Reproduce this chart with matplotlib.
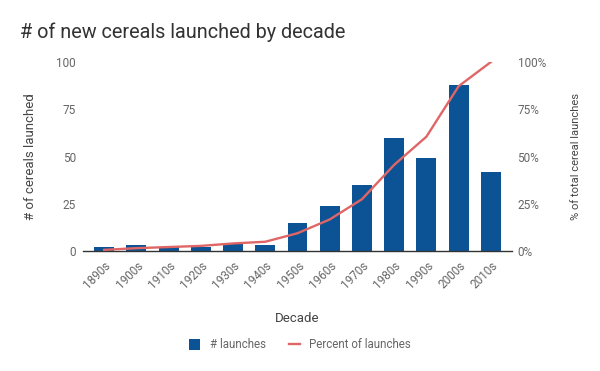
import matplotlib.pyplot as plt
import numpy as np

plt.rcParams['font.family'] = ['Roboto', 'DejaVu Sans']

decades = ['1890s', '1900s', '1910s', '1920s', '1930s', '1940s', '1950s',
           '1960s', '1970s', '1980s', '1990s', '2000s', '2010s']
launches = [2, 3, 2, 2, 4, 3, 15, 24, 35, 60, 49, 88, 42]
percent = [0.6, 1.5, 2.1, 2.7, 4.0, 4.9, 9.4, 16.7, 27.4, 45.6, 60.5, 87.2, 100]

bar_color = '#0b5394'
line_color = '#e06666'
tick_color = '#666666'
label_color = '#444444'

fig = plt.figure(figsize=(6, 3.71), dpi=100)
ax = fig.add_axes([83 / 600, 1 - 251 / 371, 429 / 600, 189 / 371])
ax2 = ax.twinx()

x = np.arange(len(decades))
ax.bar(x, launches, width=0.62, color=bar_color, label='# launches', zorder=2)
ax2.plot(x, percent, color=line_color, lw=1.7, label='Percent of launches', zorder=3)

pad = 5 / 32.25
ax.set_xlim(-0.5 - pad, len(decades) - 0.5 + pad)
ax.set_ylim(0, 100)
ax2.set_ylim(0, 100)

ax.set_yticks([0, 25, 50, 75, 100])
ax2.set_yticks([0, 25, 50, 75, 100])
ax2.set_yticklabels(['0%', '25%', '50%', '75%', '100%'])
ax.set_xticks(x)
ax.set_xticklabels(decades, rotation=45, ha='right', rotation_mode='anchor')

for a in (ax, ax2):
    for s in a.spines.values():
        s.set_visible(False)
    a.tick_params(length=0, labelsize=8.5, colors=tick_color)
ax.spines['bottom'].set_visible(True)
ax.spines['bottom'].set_color('#333333')
ax.spines['bottom'].set_linewidth(1)
ax.tick_params(axis='y', pad=5)
ax2.tick_params(axis='y', pad=4)
ax.tick_params(axis='x', pad=6)

ax.set_ylabel('# of cereals launched', fontsize=9.5, color=label_color, labelpad=14)
ax2.set_ylabel('% of total cereal launches', fontsize=8, color=label_color, labelpad=18)
ax.set_xlabel('Decade', fontsize=9.5, color=label_color, labelpad=15)

# put bars below the line
ax.set_zorder(ax2.get_zorder() - 1)
ax.patch.set_visible(False)

fig.text(20 / 600, 1 - 32 / 371, '# of new cereals launched by decade',
         fontsize=14.3, color='#333333', va='center', ha='left')

h1, l1 = ax.get_legend_handles_labels()
h2, l2 = ax2.get_legend_handles_labels()
fig.legend(h1 + h2, l1 + l2, loc='center', bbox_to_anchor=(300 / 600, 1 - 345 / 371),
           ncol=2, frameon=False, fontsize=8.3, labelcolor=tick_color,
           handlelength=1.0, handleheight=1.0, columnspacing=2.0, handletextpad=0.8)

fig.savefig('out.png', dpi=100)
